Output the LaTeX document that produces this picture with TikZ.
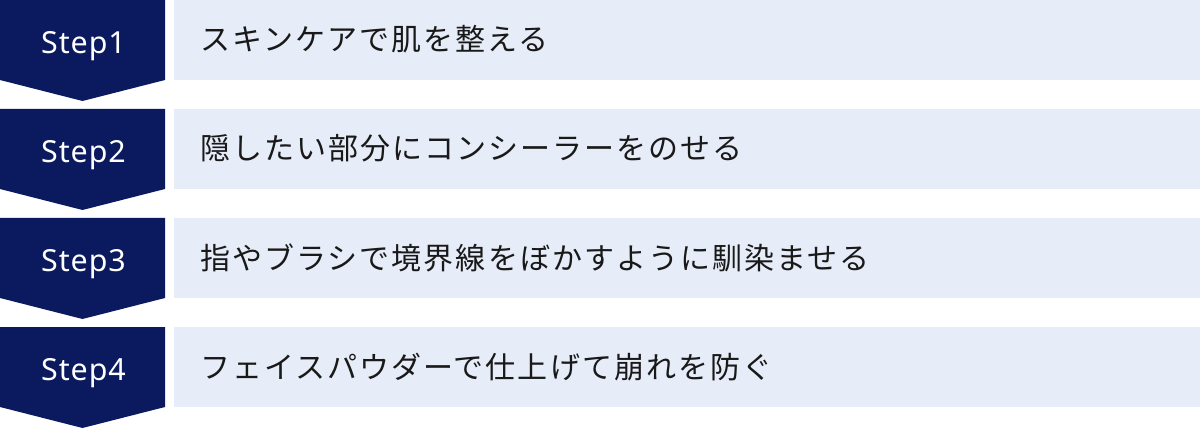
\documentclass[tikz,border=0pt]{standalone}
\usepackage{fontspec}
\setmainfont{Noto Sans}[LetterSpace=3]
\newfontfamily\jpfont[LetterSpace=6.8]{Noto Sans CJK JP}
\definecolor{stepnavy}{HTML}{0B1A5E}
\definecolor{stepbg}{HTML}{E6ECF8}
\begin{document}
\begin{tikzpicture}[x=0.75pt,y=0.75pt,
 stepshape/.style={fill=stepnavy},
 stepbar/.style={fill=stepbg},
 stepname/.style={text=white,inner sep=0pt,anchor=base,font=\fontsize{22.8}{27}\selectfont},
 steptext/.style={text=black!90,inner sep=0pt,anchor=base west,font=\jpfont\fontsize{22.5}{27}\selectfont}]
 \useasboundingbox (0,0) rectangle (1200,429);
 % Step1
 \fill[stepshape](0,429)--(165,429)--(165,349)--(82.5,328)--(0,349)--cycle;
 \fill[stepbar](174,429) rectangle (1200,349);
 \node[stepname] (s1) at (83.5,375.7) {Step1};
 \node[steptext] (t1) at (200,378) {スキンケアで肌を整える};
 % Step2
 \fill[stepshape](0,320)--(165,320)--(165,240)--(82.5,219)--(0,240)--cycle;
 \fill[stepbar](174,320) rectangle (1200,240);
 \node[stepname] (s2) at (83.5,266.7) {Step2};
 \node[steptext] (t2) at (200,269) {隠したい部分にコンシーラーをのせる};
 % Step3
 \fill[stepshape](0,211)--(165,211)--(165,131)--(82.5,110)--(0,131)--cycle;
 \fill[stepbar](174,211) rectangle (1200,131);
 \node[stepname] (s3) at (83.5,157.7) {Step3};
 \node[steptext] (t3) at (200,160) {指やブラシで境界線をぼかすように馴染ませる};
 % Step4
 \fill[stepshape](0,102)--(165,102)--(165,22)--(82.5,1)--(0,22)--cycle;
 \fill[stepbar](174,102) rectangle (1200,22);
 \node[stepname] (s4) at (83.5,48.7) {Step4};
 \node[steptext] (t4) at (200,51) {フェイスパウダーで仕上げて崩れを防ぐ};
\end{tikzpicture}
\end{document}
